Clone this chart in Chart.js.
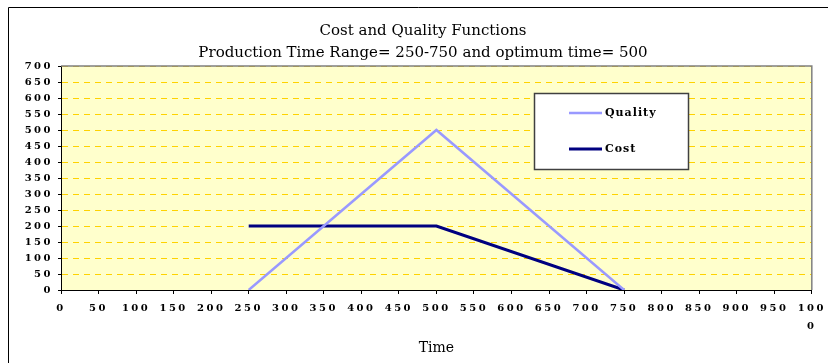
<!DOCTYPE html>
<html>
<head>
<meta charset="utf-8">
<script src="https://cdn.jsdelivr.net/npm/chart.js@4.4.0/dist/chart.umd.min.js"></script>
<style>
  html, body { margin: 0; padding: 0; background: #fff; }
  #wrap { width: 828px; height: 363px; }
</style>
</head>
<body>
<div id="wrap"><canvas id="mycanvas" width="828" height="363"></canvas></div>
<script>
const timePoints = [250, 500, 750];
const quality = [0, 500, 0];
const cost = [200, 200, 0];
const xTickValues = [0, 50, 100, 150, 200, 250, 300, 350, 400, 450, 500, 550, 600, 650, 700, 750, 800, 850, 900, 950, 1000];
const yTickValues = [0, 50, 100, 150, 200, 250, 300, 350, 400, 450, 500, 550, 600, 650, 700];

const serif = "'DejaVu Serif', serif";

const canvas = document.getElementById("mycanvas");
const ctx = canvas.getContext("2d");

// spaced-out tick digits, like the old spreadsheet style; labels may run past the narrow y box
const spacedTicks = {
    id: "spacedTicks",
    beforeDraw(chart) {
        Object.values(chart.scales).forEach(scale => {
            if (scale._spaced) return;
            const orig = scale.drawLabels;
            scale._computeLabelArea = () => undefined;
            scale.drawLabels = function (area) {
                const c = this.ctx;
                c.save();
                c.letterSpacing = "2.5px";
                orig.call(this, area);
                c.restore();
            };
            scale._spaced = true;
        });
    }
};

const plotFrame = {
    id: "plotFrame",
    beforeDraw(chart) {
        const a = chart.chartArea;
        const c = chart.ctx;
        c.save();
        c.fillStyle = "#FFFFCC";
        c.fillRect(a.left, a.top, a.right - a.left, a.bottom - a.top);
        c.restore();
    },
    beforeDatasetsDraw(chart) {
        const a = chart.chartArea;
        const c = chart.ctx;
        c.save();
        c.strokeStyle = "#808080";
        c.lineWidth = 1.5;
        c.beginPath();
        c.moveTo(a.left, a.top);
        c.lineTo(a.right, a.top);
        c.lineTo(a.right, a.bottom);
        c.stroke();
        c.restore();
    },
    afterDraw(chart) {
        const a = chart.chartArea;
        const c = chart.ctx;
        c.save();
        // outer chart frame
        c.strokeStyle = "#000";
        c.lineWidth = 1;
        c.beginPath();
        c.moveTo(8.5, chart.height + 2);
        c.lineTo(8.5, 7.5);
        c.lineTo(chart.width + 2, 7.5);
        c.stroke();

        // legend box
        const bx = a.left + 473, by = a.top + 27, bw = 154, bh = 76;
        c.fillStyle = "#fff";
        c.fillRect(bx, by, bw, bh);
        c.strokeStyle = "#404040";
        c.lineWidth = 1.5;
        c.strokeRect(bx + 0.5, by + 0.5, bw, bh);
        c.font = "bold 11px " + serif;
        c.letterSpacing = "1px";
        c.textBaseline = "middle";
        c.fillStyle = "#000";
        chart.data.datasets.forEach((ds, i) => {
            const y = by + 20 + i * 36;
            c.strokeStyle = ds.borderColor;
            c.lineWidth = ds.borderWidth;
            c.beginPath();
            c.moveTo(bx + 35, y);
            c.lineTo(bx + 68, y);
            c.stroke();
            c.fillText(ds.label, bx + 71, y);
        });
        c.restore();
    }
};

var chart = new Chart(ctx, {
    type: "scatter",
    data: {
        datasets: [
            {
                label: "Quality",
                data: timePoints.map((t, i) => ({ x: t, y: quality[i] })),
                showLine: true,
                borderColor: "#9999FF",
                backgroundColor: "#9999FF",
                borderWidth: 2.5,
                pointRadius: 0,
                tension: 0
            },
            {
                label: "Cost",
                data: timePoints.map((t, i) => ({ x: t, y: cost[i] })),
                showLine: true,
                borderColor: "#000080",
                backgroundColor: "#000080",
                borderWidth: 3,
                pointRadius: 0,
                tension: 0
            }
        ]
    },
    options: {
        responsive: false,
        animation: false,
        layout: {
            padding: { top: 0, left: 34, right: 16, bottom: 0 }
        },
        scales: {
            x: {
                type: "linear",
                min: 0,
                max: 1000,
                afterBuildTicks: scale => { scale.ticks = xTickValues.map(v => ({ value: v })); },
                afterFit: scale => { scale.height = 73; },
                ticks: {
                    color: "#000",
                    padding: 5.75,
                    maxRotation: 0,
                    autoSkip: false,
                    font: { family: serif, size: 10, weight: "bold", lineHeight: 1.75 },
                    callback: v => v === 1000 ? ["100", "0"] : String(v)
                },
                grid: {
                    drawOnChartArea: false,
                    drawTicks: true,
                    tickLength: 4,
                    tickColor: "#000"
                },
                border: { color: "#000", width: 1 },
                title: {
                    display: true,
                    text: "Time",
                    color: "#000",
                    font: { family: serif, size: 14 },
                    padding: { top: 0, bottom: 6.6 }
                }
            },
            y: {
                min: 0,
                max: 700,
                afterBuildTicks: scale => { scale.ticks = yTickValues.map(v => ({ value: v })); },
                afterFit: scale => { scale.width = 27; },
                ticks: {
                    color: "#000",
                    padding: 5,
                    font: { family: serif, size: 10, weight: "bold" }
                },
                grid: {
                    color: "#FFD200",
                    lineWidth: 1,
                    drawTicks: true,
                    tickLength: 3,
                    tickColor: "#000",
                    z: -1
                },
                border: { color: "#000", width: 1, dash: [6, 5] }
            }
        },
        plugins: {
            legend: { display: false },
            tooltip: { enabled: false },
            title: {
                display: true,
                text: "Cost and Quality Functions",
                color: "#000",
                font: { family: serif, size: 15, weight: "normal" },
                padding: { top: 22, bottom: 2 }
            },
            subtitle: {
                display: true,
                text: "Production Time Range= 250-750 and optimum time= 500",
                color: "#000",
                font: { family: serif, size: 15, weight: "normal" },
                padding: { top: 2, bottom: 4 }
            }
        }
    },
    plugins: [spacedTicks, plotFrame]
});
</script>
</body>
</html>
